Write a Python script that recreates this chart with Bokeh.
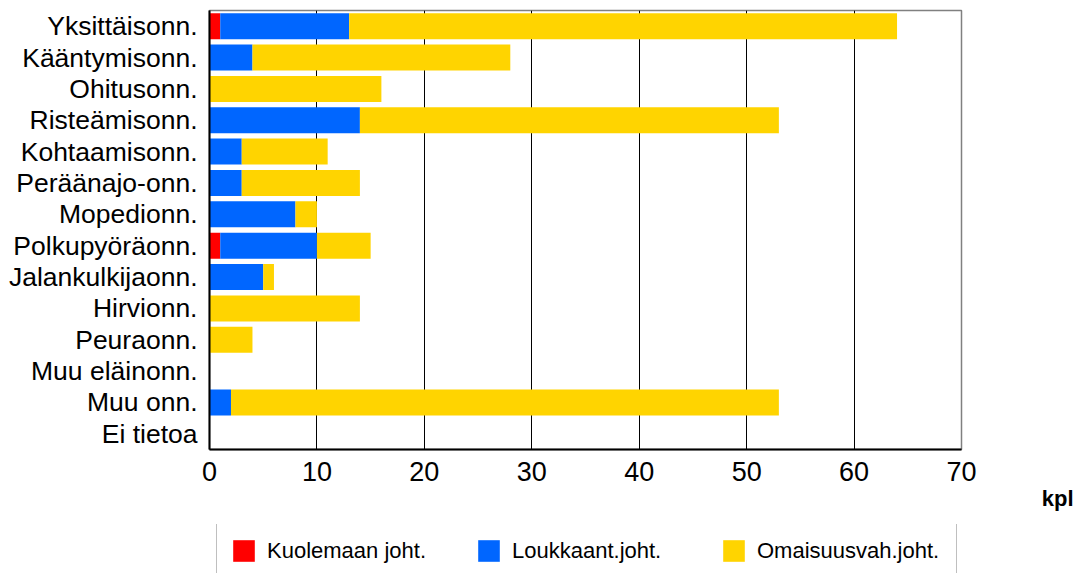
from bokeh.plotting import figure
from bokeh.layouts import column
from bokeh.models import (ColumnDataSource, FactorRange, Range1d, FixedTicker,
                          Legend, LegendItem, Title)
from bokeh.embed import file_html
from bokeh.resources import INLINE

categories = ["Yksittäisonn.", "Kääntymisonn.", "Ohitusonn.", "Risteämisonn.",
              "Kohtaamisonn.", "Peräänajo-onn.", "Mopedionn.", "Polkupyöräonn.",
              "Jalankulkijaonn.", "Hirvionn.", "Peuraonn.", "Muu eläinonn.",
              "Muu onn.", "Ei tietoa"]
kuolemaan = [1, 0, 0, 0, 0, 0, 0, 1, 0, 0, 0, 0, 0, 0]
loukkaant = [12, 4, 0, 14, 3, 3, 8, 9, 5, 0, 0, 0, 2, 0]
omaisuus = [51, 24, 16, 39, 8, 11, 2, 5, 1, 14, 4, 0, 51, 0]
series_labels = ["Kuolemaan joht.", "Loukkaant.joht.", "Omaisuusvah.joht."]
series_colors = ["#FF0000", "#0066FF", "#FFD400"]
x_ticks = [0, 10, 20, 30, 40, 50, 60, 70]
x_unit = "kpl"

FONT = "Liberation Sans"

src = ColumnDataSource(dict(cat=categories, k=kuolemaan, l=loukkaant, o=omaisuus))

p = figure(frame_width=752, frame_height=439, output_backend="svg", toolbar_location=None,
           y_range=FactorRange(factors=list(reversed(categories)), range_padding=0),
           x_range=Range1d(0, 70),
           min_border_left=209, min_border_right=126, min_border_top=10,
           min_border_bottom=75)

rs = p.hbar_stack(["k", "l", "o"], y="cat", height=0.83, color=series_colors,
                  source=src, line_width=0)

p.xaxis.ticker = FixedTicker(ticks=x_ticks)
p.xaxis.major_tick_line_color = None
p.xaxis.minor_tick_line_color = None
p.xaxis.major_tick_out = 0
p.xaxis.major_label_standoff = 12
p.xaxis.major_label_text_font = FONT
p.xaxis.major_label_text_font_size = "27px"
p.xaxis.major_label_text_color = "black"
p.xaxis.axis_line_width = 2
p.xaxis.axis_line_color = "black"

p.yaxis.major_tick_line_color = None
p.yaxis.minor_tick_line_color = None
p.yaxis.major_tick_out = 0
p.yaxis.major_label_standoff = 12
p.yaxis.major_label_text_font = FONT
p.yaxis.major_label_text_font_size = "26.5px"
p.yaxis.major_label_text_color = "black"
p.yaxis.axis_line_width = 2
p.yaxis.axis_line_color = "black"

p.ygrid.grid_line_color = None
p.xgrid.grid_line_color = "black"
p.xgrid.grid_line_width = 1
p.outline_line_color = "#808080"
p.outline_line_width = 1.5

unit_title = Title(text=x_unit, align="right", offset=-112, standoff=1,
                   text_font=FONT, text_font_size="22px", text_font_style="bold",
                   text_color="black")
p.add_layout(unit_title, "below")

# legend strip (cut off at the bottom like the reference)
lg = figure(width=1087, height=49, output_backend="svg", toolbar_location=None,
            x_range=Range1d(0, 1), y_range=Range1d(0, 1),
            x_axis_location=None, y_axis_location=None,
            min_border_left=0, min_border_right=0, min_border_top=0, min_border_bottom=0)
lg.outline_line_color = None
lg.grid.grid_line_color = None
swatches = [lg.hbar(y=[-100], left=[-100], right=[-99], height=0.5, color=c, line_width=0)
            for c in series_colors]

legend = Legend(items=[LegendItem(label=lab, renderers=[r]) for lab, r in zip(series_labels, swatches)],
                orientation="horizontal", location=(7, -5),
                glyph_width=27, glyph_height=27, label_standoff=10,
                label_width=186, label_height=22, spacing=22, padding=13, margin=0,
                label_text_font=FONT, label_text_font_size="22px",
                label_text_color="black",
                border_line_color="#808080", border_line_width=1.5,
                background_fill_color="white")
lg.add_layout(legend, "center")

layout = column(p, lg, spacing=0)
open("out.html", "w").write(file_html(layout, INLINE))
